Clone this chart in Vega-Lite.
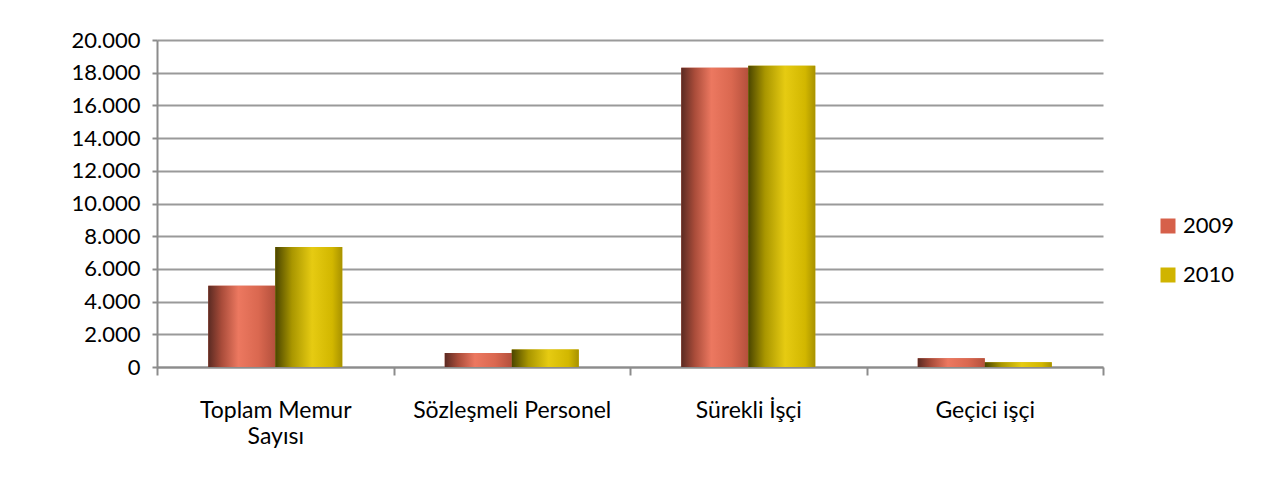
{
  "$schema": "https://vega.github.io/schema/vega-lite/v6.json",
  "width": 946,
  "height": 327,
  "autosize": {"type": "none"},
  "padding": {"left": 157, "top": 40, "right": 164, "bottom": 127},
  "background": "white",
  "config": {
    "view": {"stroke": null},
    "font": "Lato",
    "axis": {"labelFont": "Lato", "labelColor": "black", "labelFontSize": 22}
  },
  "data": {
    "values": [
      {"kategori": "Toplam Memur Sayısı", "yil": "2009", "deger": 4970},
      {"kategori": "Toplam Memur Sayısı", "yil": "2010", "deger": 7340},
      {"kategori": "Sözleşmeli Personel", "yil": "2009", "deger": 860},
      {"kategori": "Sözleşmeli Personel", "yil": "2010", "deger": 1065},
      {"kategori": "Sürekli İşçi", "yil": "2009", "deger": 18300},
      {"kategori": "Sürekli İşçi", "yil": "2010", "deger": 18420},
      {"kategori": "Geçici işçi", "yil": "2009", "deger": 530},
      {"kategori": "Geçici işçi", "yil": "2010", "deger": 290}
    ]
  },
  "encoding": {
    "x": {
      "field": "kategori",
      "type": "nominal",
      "sort": ["Toplam Memur Sayısı", "Sözleşmeli Personel", "Sürekli İşçi", "Geçici işçi"],
      "scale": {"paddingInner": 0, "paddingOuter": 0},
      "axis": {
        "title": null,
        "labelAngle": 0,
        "tickBand": "extent",
        "tickSize": 8,
        "tickWidth": 2,
        "tickColor": "#8c8c8c",
        "domainColor": "#8c8c8c",
        "domainWidth": 2,
        "labelPadding": 24,
        "labelLineHeight": 26,
        "labelBaseline": "top",
        "labelFontSize": 23,
        "labelLimit": 0,
        "labelExpr": "datum.value == 'Toplam Memur Sayısı' ? ['Toplam Memur', 'Sayısı'] : datum.value"
      }
    },
    "xOffset": {"field": "yil", "type": "nominal", "scale": {"paddingInner": 0, "paddingOuter": 0.765}},
    "y": {
      "field": "deger",
      "type": "quantitative",
      "scale": {"domain": [0, 20000], "nice": false},
      "axis": {
        "title": null,
        "values": [0, 2000, 4000, 6000, 8000, 10000, 12000, 14000, 16000, 18000, 20000],
        "labelExpr": "replace(format(datum.value, ','), ',', '.')",
        "grid": true,
        "gridColor": "#9a9a9a",
        "gridWidth": 2,
        "tickSize": 5,
        "tickWidth": 2,
        "tickColor": "#8c8c8c",
        "domainColor": "#8c8c8c",
        "domainWidth": 2,
        "labelPadding": 12
      }
    }
  },
  "layer": [
    {
      "mark": {"type": "bar"},
      "encoding": {
        "color": {
          "field": "yil",
          "type": "nominal",
          "scale": {"domain": ["2009", "2010"], "range": ["#d6604a", "#d0b400"]},
          "legend": {
            "title": null,
            "orient": "none",
            "legendX": 1000,
            "legendY": 175,
            "symbolType": "square",
            "symbolSize": 225,
            "symbolStrokeWidth": 0,
            "labelFontSize": 22,
            "labelFont": "Lato",
            "labelColor": "black",
            "rowPadding": 27,
            "labelOffset": 4
          }
        }
      }
    },
    {
      "transform": [{"filter": "datum.yil == '2009'"}],
      "mark": {
        "type": "bar",
        "fill": {
          "gradient": "linear", "x1": 0, "y1": 0, "x2": 1, "y2": 0,
          "stops": [
            {"offset": 0, "color": "#5a2a22"},
            {"offset": 0.2, "color": "#a94c3a"},
            {"offset": 0.45, "color": "#ec7860"},
            {"offset": 0.75, "color": "#da6850"},
            {"offset": 1, "color": "#b4503c"}
          ]
        }
      }
    },
    {
      "transform": [{"filter": "datum.yil == '2010'"}],
      "mark": {
        "type": "bar",
        "fill": {
          "gradient": "linear", "x1": 0, "y1": 0, "x2": 1, "y2": 0,
          "stops": [
            {"offset": 0, "color": "#4a4500"},
            {"offset": 0.25, "color": "#a99600"},
            {"offset": 0.55, "color": "#e6cb12"},
            {"offset": 0.85, "color": "#d2b700"},
            {"offset": 1, "color": "#a89200"}
          ]
        }
      }
    }
  ]
}
